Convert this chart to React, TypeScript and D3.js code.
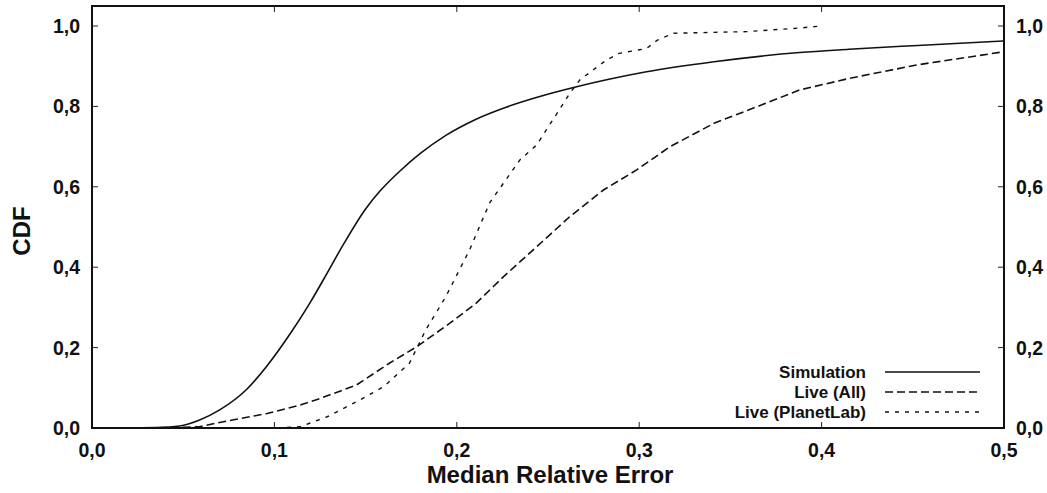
import React from "react";
import * as d3 from "d3";

const simX = [0.0, 0.02, 0.035, 0.048, 0.059, 0.07, 0.085, 0.096, 0.109, 0.12, 0.127, 0.138, 0.15, 0.158, 0.169, 0.18, 0.194, 0.21, 0.227, 0.245, 0.264, 0.284, 0.304, 0.341, 0.388, 0.415, 0.45, 0.5];
const simY = [0, 0, 0.001, 0.005, 0.02, 0.045, 0.097, 0.155, 0.237, 0.315, 0.37, 0.458, 0.545, 0.59, 0.64, 0.683, 0.728, 0.767, 0.798, 0.824, 0.847, 0.868, 0.886, 0.911, 0.934, 0.942, 0.951, 0.963];

const allX = [0.03, 0.059, 0.068, 0.077, 0.096, 0.114, 0.123, 0.145, 0.163, 0.178, 0.196, 0.2105, 0.2255, 0.2438, 0.262, 0.2804, 0.2986, 0.317, 0.341, 0.365, 0.388, 0.4155, 0.452, 0.5];
const allY = [0, 0.003, 0.012, 0.02, 0.036, 0.057, 0.07, 0.107, 0.161, 0.202, 0.26, 0.31, 0.376, 0.451, 0.526, 0.592, 0.642, 0.7, 0.758, 0.8, 0.841, 0.87, 0.903, 0.936];

const plX = [0.085, 0.099, 0.114, 0.129, 0.147, 0.16, 0.174, 0.183, 0.194, 0.207, 0.218, 0.2346, 0.2438, 0.249, 0.255, 0.262, 0.2675, 0.282, 0.289, 0.304, 0.31, 0.319, 0.359, 0.388, 0.4];
const plY = [0, 0, 0.003, 0.028, 0.07, 0.103, 0.161, 0.244, 0.327, 0.443, 0.56, 0.667, 0.704, 0.741, 0.783, 0.833, 0.866, 0.915, 0.932, 0.944, 0.965, 0.982, 0.986, 0.995, 1.0];

const xTicks = [0, 0.1, 0.2, 0.3, 0.4, 0.5];
const yTicks = [0, 0.2, 0.4, 0.6, 0.8, 1.0];

const seriesNames = ["Simulation", "Live (All)", "Live (PlanetLab)"];

const W = 1047;
const H = 493;
const L = 92, R = 1004, T = 6, B = 428;

const fmt = (v: number) => v.toFixed(1).replace(".", ",");
const FONT = "'Liberation Sans', Arial, Helvetica, sans-serif";

export default function App() {
  const x = d3.scaleLinear().domain([0, 0.5]).range([L, R]);
  const y = d3.scaleLinear().domain([0, 1.0]).range([B, 26]);
  const zip = (xs: number[], ys: number[]) => xs.map((v, i) => [v, ys[i]] as [number, number]);
  const smooth = d3.line<[number, number]>().x(d => x(d[0])).y(d => y(d[1])).curve(d3.curveMonotoneX);
  const lin = d3.line<[number, number]>().x(d => x(d[0])).y(d => y(d[1]));

  const series = [
    { name: seriesNames[0], d: smooth(zip(simX, simY)), dash: undefined as string | undefined, w: 1.6 },
    { name: seriesNames[1], d: lin(zip(allX, allY)), dash: "8,4", w: 1.6 },
    { name: seriesNames[2], d: lin(zip(plX, plY)), dash: "4,6", w: 1.4 },
  ];

  const tick = 6;
  return (
    <svg width={W} height={H} style={{ position: "absolute", left: 0, top: 0, background: "#fff" }} fontFamily={FONT}>
      <rect x={0} y={0} width={W} height={H} fill="#fff" />
      {xTicks.map(t => (
        <g key={"xt" + t} stroke="#222" strokeWidth={1}>
          <line x1={x(t)} x2={x(t)} y1={B} y2={B - tick} />
          <line x1={x(t)} x2={x(t)} y1={T} y2={T + tick} />
        </g>
      ))}
      {yTicks.map(t => (
        <g key={"yt" + t} stroke="#222" strokeWidth={1}>
          <line x1={L} x2={L + tick} y1={y(t)} y2={y(t)} />
          <line x1={R} x2={R - tick} y1={y(t)} y2={y(t)} />
        </g>
      ))}
      {series.map(s => (
        <path key={s.name} d={s.d || ""} fill="none" stroke="#111" strokeWidth={s.w} strokeDasharray={s.dash} />
      ))}
      <rect x={L} y={T} width={R - L} height={B - T} fill="none" stroke="#111" strokeWidth={2} />
      {xTicks.map(t => (
        <text key={"xl" + t} x={x(t)} y={457} textAnchor="middle" fontSize={19.5} fontWeight="bold" fill="#111">{fmt(t)}</text>
      ))}
      {yTicks.map(t => (
        <text key={"yl" + t} x={80} y={y(t) + 7} textAnchor="end" fontSize={19.5} fontWeight="bold" fill="#111">{fmt(t)}</text>
      ))}
      {yTicks.map(t => (
        <text key={"yr" + t} x={1016} y={y(t) + 7} textAnchor="start" fontSize={19.5} fontWeight="bold" fill="#111">{fmt(t)}</text>
      ))}
      <text x={550} y={483} textAnchor="middle" fontSize={24} fontWeight="bold" fill="#111">Median Relative Error</text>
      <text transform="translate(30,231) rotate(-90)" textAnchor="middle" fontSize={24} fontWeight="bold" fill="#111">CDF</text>
      {series.map((s, i) => (
        <g key={"lg" + s.name}>
          <text x={866} y={378 + i * 20} textAnchor="end" fontSize={17} fontWeight="bold" fill="#111">{s.name}</text>
          <line x1={885} x2={980} y1={372 + i * 20} y2={372 + i * 20} stroke="#111" strokeWidth={s.w} strokeDasharray={s.dash} />
        </g>
      ))}
    </svg>
  );
}
